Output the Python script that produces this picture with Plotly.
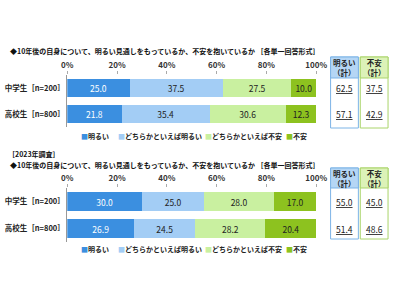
import plotly.graph_objects as go

# ---- data ----
categories = ["中学生［n=200］", "高校生［n=800］"]
series_names = ["明るい", "どちらかといえば明るい", "どちらかといえば不安", "不安"]
# current survey
cur_vals = {
    "明るい": [25.0, 21.8],
    "どちらかといえば明るい": [37.5, 35.4],
    "どちらかといえば不安": [27.5, 30.6],
    "不安": [10.0, 12.3],
}
cur_bright_total = [62.5, 57.1]
cur_anx_total = [37.5, 42.9]
# 2023 survey
prev_vals = {
    "明るい": [30.0, 26.9],
    "どちらかといえば明るい": [25.0, 24.5],
    "どちらかといえば不安": [28.0, 28.2],
    "不安": [17.0, 20.4],
}
prev_bright_total = [55.0, 51.4]
prev_anx_total = [45.0, 48.6]
tick_vals = [0, 20, 40, 60, 80, 100]
tick_text = ["0%", "20%", "40%", "60%", "80%", "100%"]

title_text = "◆10年後の自身について、明るい見通しをもっているか、不安を抱いているか ［各単一回答形式］"
survey_label = "［2023年調査］"

# ---- styles ----
colors = ["#3b8fe0", "#a3cdf5", "#c9f0a0", "#8dc21f"]
text_colors = ["white", "#222", "#222", "#222"]
FONT = "Noto Sans CJK JP"

fig = go.Figure()

def add_bars(vals, xa, ya):
    for i, name in enumerate(series_names):
        fig.add_trace(go.Bar(
            y=categories, x=vals[name], orientation="h", name=name,
            marker=dict(color=colors[i], line=dict(width=0)),
            text=[f"{v:.1f}" for v in vals[name]],
            textposition="inside", insidetextanchor="middle", textangle=0,
            textfont=dict(color=text_colors[i], size=8.5, family=FONT),
            xaxis=xa, yaxis=ya, showlegend=False, hoverinfo="skip",
        ))

add_bars(cur_vals, "x", "y")
add_bars(prev_vals, "x2", "y2")

def xaxis_cfg(anchor):
    return dict(domain=[64/400, 324/400], range=[0, 100], side="top", anchor=anchor,
                tickvals=tick_vals, ticktext=[f"<b>{t}</b>" for t in tick_text],
                showgrid=False, zeroline=False,
                ticks="outside", ticklen=3, tickcolor="#aaa", showline=False,
                tickfont=dict(size=8, family=FONT, color="#333"), fixedrange=True)

def yaxis_cfg(anchor, top_px, bot_px):
    return dict(domain=[1 - bot_px/300, 1 - top_px/300], type="category",
                categoryorder="array", categoryarray=categories, range=[1.5, -0.5],
                anchor=anchor, showline=True, linecolor="#999", linewidth=1,
                ticks="", showgrid=False,
                tickvals=categories, ticktext=[f"<b>{c}</b>" for c in categories],
                tickfont=dict(size=7.5, family=FONT, color="#222"))

fig.update_layout(
    width=400, height=300, margin=dict(l=0, r=0, t=0, b=0),
    paper_bgcolor="white", plot_bgcolor="white",
    barmode="stack", bargap=0.32,
    uniformtext=dict(minsize=8, mode="show"),
    xaxis=xaxis_cfg("y"), yaxis=yaxis_cfg("x", 75, 127),
    xaxis2=xaxis_cfg("y2"), yaxis2=yaxis_cfg("x2", 188, 242),
    font=dict(family=FONT),
)

ann = []
shapes = []

# titles
ann.append(dict(x=2/400, y=1 - 51/300, xref="paper", yref="paper", xanchor="left", yanchor="middle",
                text=f"<b>{title_text}</b>", showarrow=False, font=dict(size=7, color="#111")))
ann.append(dict(x=0/400, y=1 - 154/300, xref="paper", yref="paper", xanchor="left", yanchor="middle",
                text=f"<b>{survey_label}</b>", showarrow=False, font=dict(size=7, color="#111")))
ann.append(dict(x=2/400, y=1 - 165/300, xref="paper", yref="paper", xanchor="left", yanchor="middle",
                text=f"<b>{title_text}</b>", showarrow=False, font=dict(size=7, color="#111")))

# legends
legend_x = [76, 115, 206, 290]
for ly in (136, 249):
    for i, name in enumerate(series_names):
        ann.append(dict(x=legend_x[i]/400, y=1 - ly/300, xref="paper", yref="paper",
                        xanchor="left", yanchor="middle", showarrow=False,
                        text=f"<span style='color:{colors[i]}'>■</span><b>{name}</b>",
                        font=dict(size=7, color="#222")))

# right-side total boxes
box_defs = [
    (339, 368, "#7db4e6", "#b5d6f5", "<b>明るい</b><br><b>（計）</b>"),
    (370, 399, "#aad46a", "#dcf2b8", "<b>不安</b><br><b>（計）</b>"),
]
panels = [
    (57, 78, 128, "y", cur_bright_total, cur_anx_total),
    (168, 188, 239, "y2", prev_bright_total, prev_anx_total),
]
for (htop, hbot, btm, yref, bright, anx) in panels:
    for bi, (x0, x1, lc, fc, label) in enumerate(box_defs):
        shapes.append(dict(type="rect", xref="paper", yref="paper",
                           x0=x0/400, x1=x1/400, y0=1 - btm/300, y1=1 - htop/300,
                           line=dict(color=lc, width=1), fillcolor="white", layer="below"))
        shapes.append(dict(type="rect", xref="paper", yref="paper",
                           x0=x0/400, x1=x1/400, y0=1 - hbot/300, y1=1 - htop/300,
                           line=dict(color=lc, width=1), fillcolor=fc, layer="below"))
        ann.append(dict(x=(x0 + x1)/2/400, y=1 - (htop + hbot)/2/300, xref="paper", yref="paper",
                        xanchor="center", yanchor="middle", showarrow=False, text=label,
                        font=dict(size=7.5, color="#222")))
        vals = bright if bi == 0 else anx
        for cat, v in zip(categories, vals):
            ann.append(dict(x=(x0 + x1)/2/400, y=cat, xref="paper", yref=yref,
                            xanchor="center", yanchor="middle", showarrow=False,
                            text=f"<u>{v:.1f}</u>",
                            font=dict(size=8.5, color="#222")))

fig.update_layout(annotations=ann, shapes=shapes)
fig.write_html("out.html")
